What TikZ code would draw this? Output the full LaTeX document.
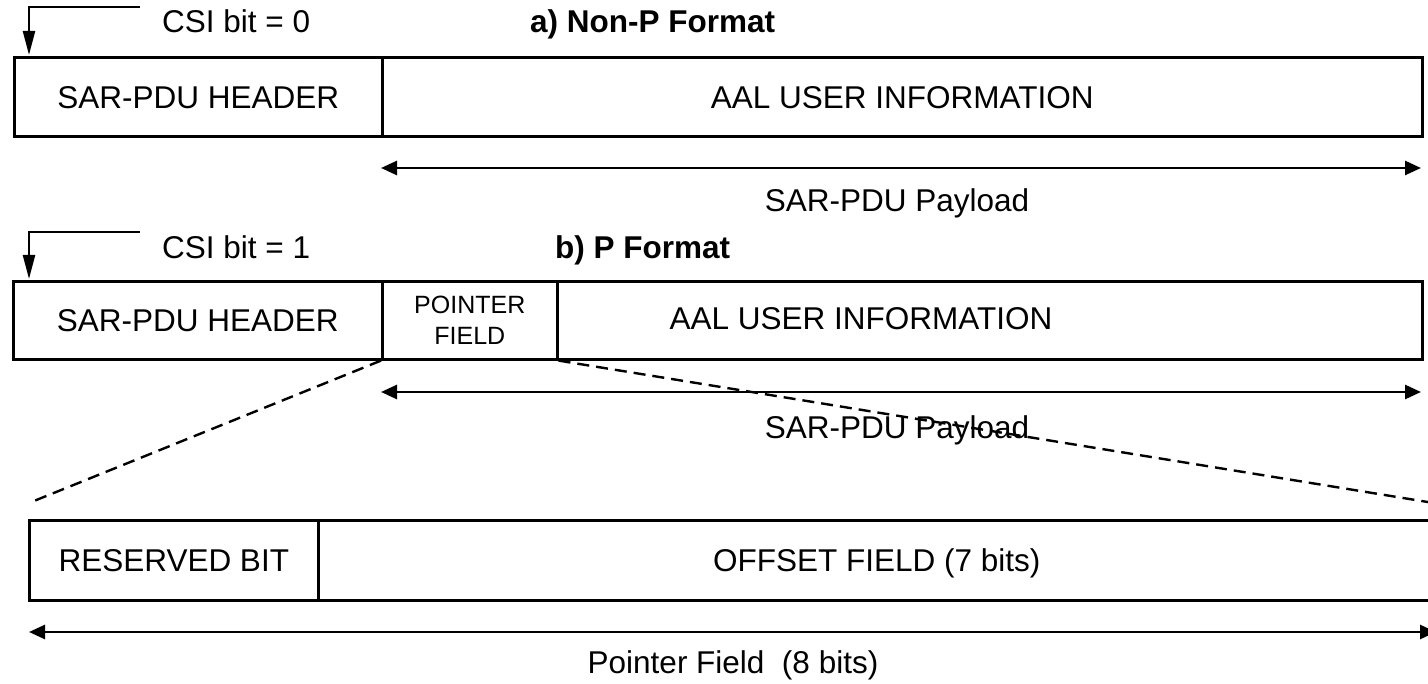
\documentclass[tikz,border=0pt]{standalone}
\usepackage{fontspec}
\setmainfont{Liberation Sans}
\usetikzlibrary{arrows.meta}
\newcommand\lbltxt{\fontsize{31.5}{36}\selectfont}
\newcommand\smalltxt{\fontsize{25}{31}\selectfont}
\begin{document}
\begin{tikzpicture}[x=1pt,y=-1pt,
  cell/.style={draw, line width=2.6pt, rectangle, inner sep=0pt, anchor=north west,
               text height=22.5pt, text depth=0pt, font=\lbltxt},
  lbl/.style={inner sep=0pt, font=\lbltxt, anchor=base},
  span/.style={line width=2.6pt, {Triangle[length=16pt,width=14pt]}-{Triangle[length=16pt,width=14pt]}},
  csi/.style={line width=2.4pt, -{Triangle[length=24pt,width=12pt]}},
  zoomline/.style={line width=2.4pt, dash pattern=on 12pt off 7pt}]
\useasboundingbox (0,0) rectangle (1428,684);
\clip (0,0) rectangle (1428,684);

% a) Non-P format
\node[cell, minimum width=368pt, minimum height=79pt] (hdrA) at (13,56) {SAR-PDU HEADER};
\node[cell, minimum width=1040pt, minimum height=79pt] (infoA) at (381,56) {AAL USER INFORMATION};
\coordinate (csiAs) at (140,7);
\coordinate (csiAc) at (29,7);
\coordinate (csiAe) at (29,55);
\draw[csi] (csiAs) -- (csiAc) -- (csiAe);
\node[lbl, anchor=base west] (csiA) at (162,33) {CSI bit = 0};
\node[lbl, anchor=base west] (titleA) at (530,33) {\bfseries a) Non-P Format};
\coordinate (payAL) at (381,168);
\coordinate (payAR) at (1421,168);
\draw[span] (payAL) -- (payAR);
\node[lbl] (payA) at (897,212) {SAR-PDU Payload};

% b) P format
\node[cell, minimum width=369pt, minimum height=78pt] (hdrB) at (12,280) {SAR-PDU HEADER};
\node[cell, minimum width=175pt, minimum height=78pt, text height=, text depth=, align=center,
      font=\smalltxt] (ptrB) at (381,280) {POINTER\\FIELD};
\node[cell, minimum width=865pt, minimum height=78pt] (infoB) at (556,280) {};
\node[lbl] (infoBtext) at (861,330) {AAL USER INFORMATION};
\coordinate (csiBs) at (140,232);
\coordinate (csiBc) at (29,232);
\coordinate (csiBe) at (29,279);
\draw[csi] (csiBs) -- (csiBc) -- (csiBe);
\node[lbl, anchor=base west] (csiB) at (162,259) {CSI bit = 1};
\node[lbl, anchor=base west] (titleB) at (555,259) {\bfseries b) P Format};
\coordinate (payBL) at (381,392);
\coordinate (payBR) at (1421,392);
\draw[span] (payBL) -- (payBR);
\node[lbl] (payB) at (897,439) {SAR-PDU Payload};

% expansion of the pointer field
\coordinate (zoomL) at (29,503);
\coordinate (zoomR) at (1440,504);
\draw[zoomline] (ptrB.south west) -- (zoomL);
\draw[zoomline] (ptrB.south east) -- (zoomR);

\node[cell, minimum width=289pt, minimum height=80pt] (resC) at (28,519) {RESERVED BIT};
\node[cell, minimum width=1117pt, minimum height=80pt] (offC) at (317,519) {OFFSET FIELD (7 bits)};
\coordinate (ptrL) at (29,632);
\coordinate (ptrR) at (1436,632);
\draw[span] (ptrL) -- (ptrR);
\node[lbl] (ptrText) at (733,673) {Pointer Field~~(8 bits)};
\end{tikzpicture}
\end{document}
